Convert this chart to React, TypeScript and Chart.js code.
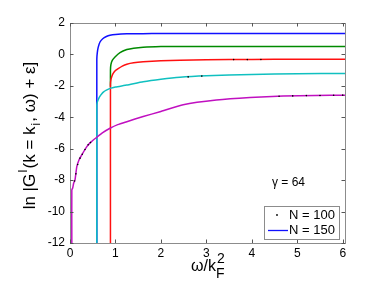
import React, { useEffect, useRef } from "react";
import { Chart, registerables } from "chart.js";

Chart.register(...registerables);

// ---- data ----
const X_TICKS = [0, 1, 2, 3, 4, 5, 6];
const Y_TICKS = [2, 0, -2, -4, -6, -8, -10, -12];

const blueX = [0.59, 0.59, 0.6, 0.62, 0.66, 0.72, 0.8, 0.88, 1.0, 1.25, 1.6, 2.0, 3.0, 4.0, 5.0, 6.05];
const blueY = [-12, -0.3, 0.1, 0.45, 0.79, 1.0, 1.14, 1.22, 1.27, 1.31, 1.32, 1.33, 1.33, 1.33, 1.33, 1.33];

const greenX = [0.89, 0.89, 0.9, 0.93, 0.99, 1.1, 1.25, 1.4, 1.61, 2.0, 2.42, 3.0, 4.0, 5.0, 6.05];
const greenY = [-2.05, -1.0, -0.65, -0.38, -0.16, 0.12, 0.31, 0.4, 0.46, 0.5, 0.51, 0.51, 0.51, 0.51, 0.51];

const redX = [0.89, 0.89, 0.9, 0.92, 0.95, 1.0, 1.06, 1.15, 1.25, 1.4, 1.61, 2.0, 2.42, 3.0, 4.0, 5.0, 6.05];
const redY = [-12, -1.9, -1.6, -1.4, -1.21, -1.02, -0.9, -0.74, -0.62, -0.53, -0.47, -0.41, -0.37, -0.34, -0.32, -0.31, -0.3];

const cyanX = [0.59, 0.59, 0.6, 0.62, 0.65, 0.7, 0.74, 0.8, 0.88, 1.0, 1.25, 1.61, 2.0, 2.42, 3.0, 4.0, 5.0, 6.05];
const cyanY = [-12, -3.22, -3.05, -2.88, -2.7, -2.5, -2.38, -2.27, -2.16, -2.07, -1.95, -1.74, -1.58, -1.45, -1.36, -1.27, -1.23, -1.21];

const magX = [0.04, 0.04, 0.06, 0.08, 0.11, 0.15, 0.2, 0.26, 0.37, 0.47, 0.59, 0.72, 0.88, 1.05, 1.25, 1.61, 1.98, 2.49, 3.22, 3.96, 4.69, 5.4, 6.05];
const magY = [-12, -8.62, -8.5, -8.2, -7.98, -7.14, -6.7, -6.39, -5.87, -5.55, -5.27, -4.98, -4.7, -4.47, -4.28, -3.95, -3.65, -3.2, -2.9, -2.74, -2.65, -2.61, -2.59];

const dotX = [0.1, 0.13, 0.17, 0.22, 0.27, 0.33, 0.4, 0.45, 4.6, 4.9, 5.2, 5.5, 5.8, 6.0, 3.6, 3.9, 4.2, 2.6, 2.9];
const dotY = [-8.05, -7.6, -7.0, -6.6, -6.35, -6.05, -5.75, -5.6, -2.66, -2.64, -2.62, -2.61, -2.6, -2.59, -0.33, -0.33, -0.32, -1.43, -1.38];

const LEGEND_LABELS = ["N = 100", "N = 150"];
const GAMMA_TEXT = "\u03b3 = 64";

const zip = (xs: number[], ys: number[]) => xs.map((x, i) => ({ x, y: ys[i] }));

const FONT = "'Liberation Sans', Arial, Helvetica, sans-serif";

const decorPlugin = {
  id: "decor",
  afterDraw(chart: any) {
    const { ctx, chartArea: a, scales } = chart;
    const xs = scales.x;
    const ys = scales.y;
    ctx.save();
    // box
    ctx.strokeStyle = "#8c8c8c";
    ctx.lineWidth = 1;
    ctx.strokeRect(Math.round(a.left) + 0.5, Math.round(a.top) + 0.5, Math.round(a.right - a.left), Math.round(a.bottom - a.top));
    // inward ticks
    ctx.strokeStyle = "#555";
    const tl = 3.5;
    ctx.beginPath();
    X_TICKS.forEach((v) => {
      const px = Math.round(xs.getPixelForValue(v)) + 0.5;
      ctx.moveTo(px, a.bottom);
      ctx.lineTo(px, a.bottom - tl);
      ctx.moveTo(px, a.top);
      ctx.lineTo(px, a.top + tl);
    });
    Y_TICKS.forEach((v) => {
      const py = Math.round(ys.getPixelForValue(v)) + 0.5;
      ctx.moveTo(a.left, py);
      ctx.lineTo(a.left + tl, py);
      ctx.moveTo(a.right, py);
      ctx.lineTo(a.right - tl, py);
    });
    ctx.stroke();

    ctx.fillStyle = "#000";
    ctx.textBaseline = "alphabetic";
    // x title: ω/k_F^2
    ctx.textAlign = "left";
    ctx.font = `16px ${FONT}`;
    const xt = "\u03c9/k";
    const xw = ctx.measureText(xt).width;
    const xStart = 191;
    const xBase = 271;
    ctx.fillText(xt, xStart, xBase);
    ctx.font = `14px ${FONT}`;
    ctx.fillText("2", xStart + xw + 1, xBase - 8);
    ctx.fillText("F", xStart + xw, xBase + 7);

    // y title
    ctx.translate(35, 135);
    ctx.rotate(-Math.PI / 2);
    const parts: [string, number, number][] = [
      ["ln |G", 17, 0],
      ["I", 12, -8],
      ["(k = k", 17, 0],
      ["i", 12, 5],
      [", \u03c9) + \u03b5]", 17, 0],
    ];
    let total = 0;
    parts.forEach(([t, s]) => {
      ctx.font = `${s}px ${FONT}`;
      total += ctx.measureText(t).width + 1;
    });
    let cx = -total / 2;
    parts.forEach(([t, s, dy]) => {
      ctx.font = `${s}px ${FONT}`;
      ctx.fillText(t, cx, dy);
      cx += ctx.measureText(t).width + 1;
    });
    ctx.restore();

    // gamma text
    ctx.save();
    ctx.fillStyle = "#000";
    ctx.font = `12px ${FONT}`;
    ctx.textAlign = "left";
    ctx.textBaseline = "middle";
    ctx.fillText(GAMMA_TEXT, 272, 183);

    // legend
    ctx.fillStyle = "#fff";
    ctx.fillRect(264, 206, 75, 33);
    ctx.strokeStyle = "#8c8c8c";
    ctx.strokeRect(264.5, 206.5, 75, 33);
    ctx.fillStyle = "#000";
    ctx.beginPath();
    ctx.arc(277, 215, 0.9, 0, Math.PI * 2);
    ctx.fill();
    ctx.strokeStyle = "#1010ff";
    ctx.lineWidth = 1.3;
    ctx.beginPath();
    ctx.moveTo(268, 230.5);
    ctx.lineTo(288, 230.5);
    ctx.stroke();
    ctx.fillStyle = "#000";
    ctx.font = `13px ${FONT}`;
    ctx.fillText(LEGEND_LABELS[0], 289, 215);
    ctx.fillText(LEGEND_LABELS[1], 289, 230);
    ctx.restore();
  },
};

export default function App() {
  const ref = useRef<HTMLCanvasElement | null>(null);
  useEffect(() => {
    document.body.style.margin = "0";
    const line = (data: any, color: string, order: number) => ({
      data,
      borderColor: color,
      backgroundColor: color,
      borderWidth: 1.5,
      pointRadius: 0,
      showLine: true,
      tension: 0.15,
      order,
    });
    const chart = new Chart(ref.current as HTMLCanvasElement, {
      type: "scatter",
      data: {
        datasets: [
          line(zip(blueX, blueY), "#1010ff", 6),
          line(zip(greenX, greenY), "#008a00", 5),
          line(zip(redX, redY), "#ff1010", 4),
          line(zip(cyanX, cyanY), "#10c0c0", 3),
          line(zip(magX, magY), "#c010c0", 2),
          {
            data: zip(dotX, dotY),
            borderColor: "#000",
            backgroundColor: "#000",
            pointRadius: 0.8,
            pointBorderWidth: 0,
            showLine: false,
            order: 0,
          } as any,
        ],
      },
      options: {
        animation: false,
        responsive: false,
        maintainAspectRatio: false,
        events: [],
        layout: { padding: { left: 0, right: 37, top: 23, bottom: 0 } },
        plugins: { legend: { display: false }, tooltip: { enabled: false } },
        scales: {
          x: {
            type: "linear",
            min: 0,
            max: 6.05,
            grid: { display: false, drawTicks: false },
            border: { display: false },
            afterBuildTicks: (s: any) => {
              s.ticks = X_TICKS.map((v) => ({ value: v }));
            },
            afterFit: (s: any) => {
              s.height = 43;
            },
            ticks: {
              padding: 3,
              color: "#000",
              maxRotation: 0,
              autoSkip: false,
              font: { family: FONT, size: 12 },
              callback: (v: any) => String(v),
            },
          },
          y: {
            type: "linear",
            min: -12,
            max: 2,
            grid: { display: false, drawTicks: false },
            border: { display: false },
            afterBuildTicks: (s: any) => {
              s.ticks = Y_TICKS.map((v) => ({ value: v }));
            },
            afterFit: (s: any) => {
              s.width = 70;
            },
            ticks: {
              padding: 5,
              color: "#000",
              autoSkip: false,
              font: { family: FONT, size: 12 },
              callback: (v: any) => String(v),
            },
          },
        },
      },
      plugins: [decorPlugin],
    } as any);
    return () => chart.destroy();
  }, []);
  return <canvas ref={ref} width={382} height={286} style={{ display: "block" }} />;
}
